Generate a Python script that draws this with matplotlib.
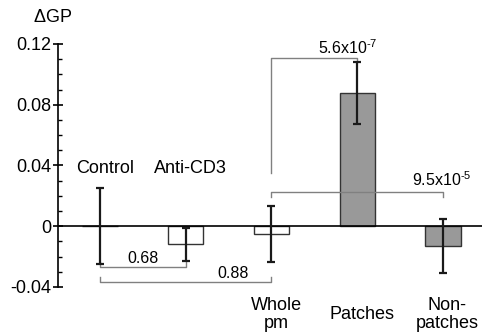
import numpy as np
import matplotlib
matplotlib.use('Agg')
import matplotlib.pyplot as plt

plt.rcParams['font.family'] = ['Liberation Sans', 'DejaVu Sans']
plt.rcParams['mathtext.fontset'] = 'custom'
plt.rcParams['mathtext.rm'] = 'Liberation Sans'

# data
groups = ['Control', 'Anti-CD3', 'Whole\npm', 'Patches', 'Non-\npatches']
means = [0.0, -0.012, -0.005, 0.0875, -0.013]
errs = [0.025, 0.011, 0.0185, 0.0205, 0.0175]
fills = ['white', 'white', 'white', '#999999', '#999999']
pvals = ['0.68', '0.88', r'5.6x10$^{\text{-7}}$', r'9.5x10$^{\text{-5}}$']
yticks = [-0.04, 0, 0.04, 0.08, 0.12]
ytick_labels = ['-0.04', '0', '0.04', '0.08', '0.12']

x = np.arange(len(groups))

fig = plt.figure(figsize=(4.82, 3.35), dpi=100)
ax = fig.add_axes([0.1203, 0.1433, 0.8797, 0.7254])

ax.bar(x, means, width=0.41, color=fills, edgecolor='#333333', linewidth=1.0, zorder=2)
ax.errorbar(x, means, yerr=errs, fmt='none', ecolor='#1a1a1a', elinewidth=1.6,
            capsize=3, capthick=1.6, zorder=4)
ax.axhline(0, color='black', lw=1.2, zorder=3)

ax.set_xlim(-0.49, 4.455)
ax.set_ylim(-0.04, 0.12)

for s in ['top', 'right', 'bottom']:
    ax.spines[s].set_visible(False)
ax.spines['left'].set_linewidth(1.2)
ax.set_xticks([])
ax.set_yticks(yticks)
ax.set_yticklabels(ytick_labels, fontsize=13)
ax.set_yticks(np.arange(-0.04, 0.1201, 0.01), minor=True)
ax.tick_params(axis='y', which='major', direction='inout', length=7, width=1.2, pad=1)
ax.tick_params(axis='y', which='minor', direction='in', length=3, width=1.0)

fig.text(53 / 482, 1 - 18 / 335, r'$\Delta$GP', fontsize=13, ha='center', va='center')

# category labels
ax.text(0.06, 0.038, groups[0], fontsize=13, ha='center', va='center')
ax.text(1.06, 0.038, groups[1], fontsize=13, ha='center', va='center')
for i, xc in zip([2, 3, 4], [2.06, 3.06, 4.05]):
    ax.text(xc, -0.058, groups[i], fontsize=13, ha='center', va='center',
            linespacing=1.1, clip_on=False)

bc = '#808080'
blw = 1.0
# 0.68 bracket
ax.plot([0, 0, 1, 1], [-0.0237, -0.0267, -0.0267, -0.0237], color=bc, lw=blw, zorder=1)
ax.text(0.5, -0.0262, pvals[0], fontsize=11.5, ha='center', va='bottom')
# 0.88 bracket
ax.plot([0, 0, 2, 2], [-0.0333, -0.0366, -0.0366, -0.0333], color=bc, lw=blw, zorder=1,
        clip_on=False)
ax.text(1.74, -0.036, pvals[1], fontsize=11.5, ha='right', va='bottom')
# 5.6e-7 bracket
ax.plot([2, 2, 3, 3], [0.0351, 0.1105, 0.1105, 0.108], color=bc, lw=blw, zorder=1)
ax.text(2.89, 0.1115, pvals[2], fontsize=11.5, ha='center', va='bottom', clip_on=False)
# 9.5e-5 bracket
ax.plot([2, 2, 4, 4], [0.0193, 0.0226, 0.0226, 0.0193], color=bc, lw=blw, zorder=3)
ax.text(3.99, 0.0245, pvals[3], fontsize=11.5, ha='center', va='bottom')

fig.savefig('out.png', dpi=100)
